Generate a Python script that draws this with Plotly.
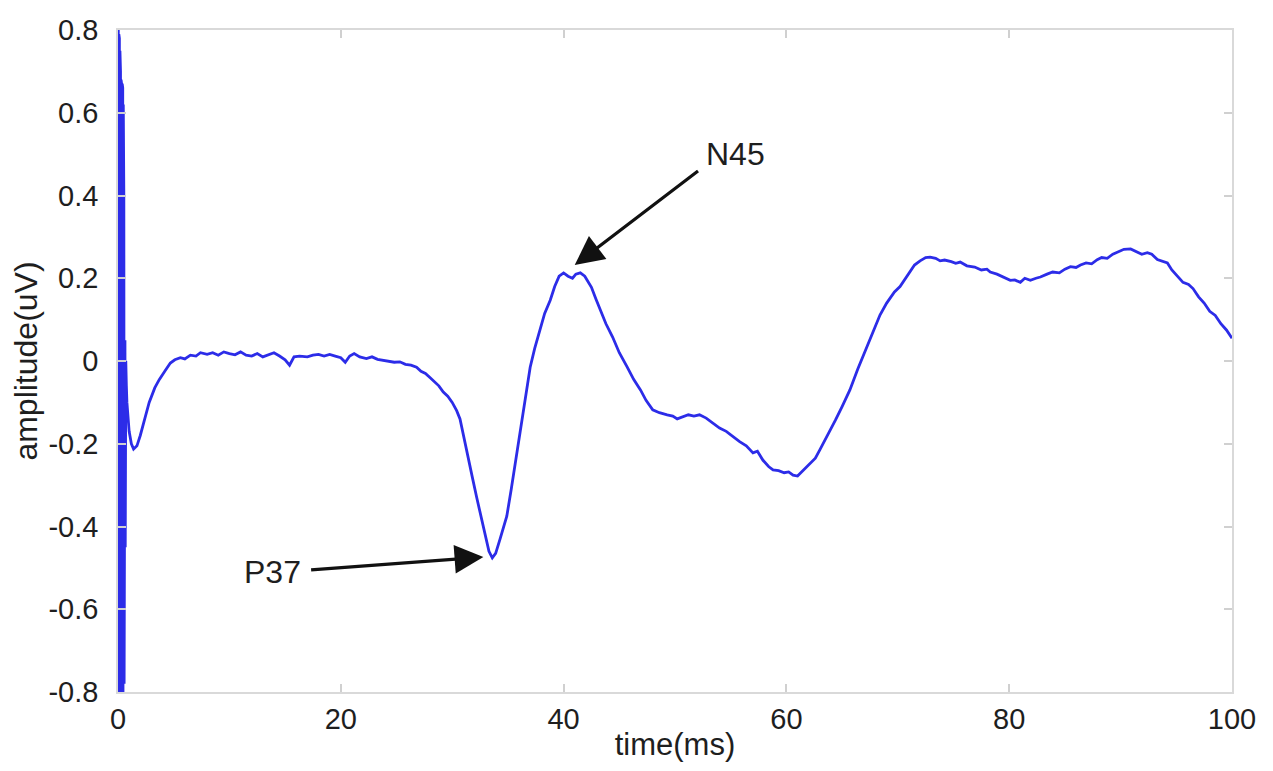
import plotly.graph_objects as go

# ---- data ----
spike_t = [0.0, 0.025, 0.05, 0.075, 0.1, 0.125, 0.15, 0.175, 0.2, 0.225, 0.25, 0.275, 0.3, 0.325, 0.35, 0.375,
           0.4, 0.425, 0.45, 0.475, 0.5, 0.525, 0.55, 0.575, 0.6, 0.625, 0.65, 0.7, 0.75, 0.8, 0.9, 1.0]
spike_v = [0.0, 0.80, -0.80, 0.79, -0.80, 0.78, -0.80, 0.75, -0.80, 0.70, -0.80, 0.68, -0.80, 0.67, -0.80, 0.67,
           -0.80, 0.66, -0.80, 0.62, -0.80, 0.40, -0.78, 0.05, -0.70, 0.05, -0.45, 0.0, -0.06, -0.10, -0.14, -0.17]

wave_t = [1.2, 1.4, 1.7, 2.0, 2.4, 2.8, 3.3, 3.7, 4.2, 4.7, 5.1, 5.6, 6.0, 6.5, 7.0, 7.4, 8.0, 8.5, 9.0, 9.5,
          10.0, 10.5, 11.0, 11.5, 12.0, 12.5, 13.0, 13.5, 14.0, 14.5, 15.0, 15.4, 15.8, 16.3, 17.0, 17.5, 18.0, 18.5, 19.0, 19.5,
          20.0, 20.4, 20.8, 21.2, 21.7, 22.3, 22.8, 23.3, 23.8, 24.3, 24.8, 25.3, 25.8, 26.3, 26.8, 27.2, 27.6, 28.0, 28.4, 28.8,
          29.2, 29.6, 30.0, 30.4, 30.7, 31.0, 31.4, 31.8, 32.2, 32.6, 33.0, 33.3, 33.6, 33.9, 34.3, 34.6, 34.9, 35.3, 35.7, 36.1,
          36.5, 37.0, 37.4, 37.9, 38.3, 38.8, 39.2, 39.6, 40.0, 40.4, 40.8, 41.1, 41.5, 41.9, 42.2, 42.5, 42.9, 43.3, 43.8, 44.4,
          45.0, 45.7, 46.3, 46.9, 47.4, 48.0, 48.6, 49.3, 49.8, 50.2, 50.7, 51.2, 51.7, 52.2, 52.8, 53.4, 54.0, 54.6, 55.2, 55.8,
          56.4, 57.0, 57.4, 57.9, 58.4, 58.8, 59.3, 59.8, 60.2, 60.6, 61.0, 61.5, 62.1, 62.6, 63.0, 63.5, 64.0, 64.4, 65.0, 65.7,
          66.4, 67.1, 67.8, 68.4, 69.0, 69.7, 70.2, 70.6, 71.0, 71.5, 72.0, 72.5, 72.9, 73.4, 73.8, 74.2, 74.8, 75.2, 75.6, 76.2,
          76.9, 77.5, 78.0, 78.3, 78.9, 79.3, 79.6, 80.1, 80.5, 81.0, 81.4, 81.9, 82.4, 82.8, 83.4, 83.9, 84.5, 85.0, 85.5, 86.0,
          86.4, 86.9, 87.4, 87.9, 88.3, 88.8, 89.3, 89.8, 90.3, 90.9, 91.4, 91.9, 92.4, 92.8, 93.3, 93.8, 94.2, 94.6, 95.1, 95.6,
          96.1, 96.5, 97.0, 97.5, 98.0, 98.5, 99.0, 99.5, 100.0]
wave_v = [-0.20, -0.213, -0.205, -0.18, -0.14, -0.10, -0.065, -0.045, -0.025, -0.005, 0.003, 0.008, 0.005, 0.014, 0.012, 0.02, 0.016, 0.02, 0.014, 0.022,
          0.018, 0.015, 0.022, 0.014, 0.012, 0.018, 0.01, 0.015, 0.02, 0.012, 0.003, -0.01, 0.01, 0.012, 0.01, 0.014, 0.016, 0.012, 0.016, 0.012,
          0.008, -0.003, 0.012, 0.018, 0.01, 0.006, 0.01, 0.004, 0.002, 0.0, -0.003, -0.002, -0.008, -0.01, -0.015, -0.025, -0.03, -0.04, -0.05, -0.06,
          -0.075, -0.085, -0.10, -0.12, -0.14, -0.18, -0.23, -0.28, -0.33, -0.38, -0.43, -0.46, -0.476, -0.465, -0.43, -0.40, -0.375, -0.31, -0.24, -0.175,
          -0.10, -0.015, 0.03, 0.08, 0.115, 0.147, 0.18, 0.205, 0.213, 0.205, 0.20, 0.21, 0.213, 0.205, 0.19, 0.178, 0.15, 0.123, 0.09, 0.058,
          0.02, -0.014, -0.045, -0.07, -0.095, -0.118, -0.125, -0.13, -0.133, -0.14, -0.135, -0.13, -0.133, -0.13, -0.138, -0.15, -0.162, -0.17, -0.183, -0.195,
          -0.205, -0.222, -0.218, -0.24, -0.255, -0.263, -0.265, -0.27, -0.268, -0.276, -0.278, -0.265, -0.25, -0.235, -0.215, -0.19, -0.165, -0.143, -0.11, -0.07,
          -0.02, 0.027, 0.07, 0.111, 0.14, 0.167, 0.18, 0.196, 0.215, 0.232, 0.242, 0.25, 0.251, 0.248, 0.242, 0.244, 0.24, 0.236, 0.239, 0.23,
          0.227, 0.22, 0.222, 0.215, 0.21, 0.205, 0.20, 0.195, 0.196, 0.19, 0.2, 0.195, 0.2, 0.203, 0.21, 0.215, 0.213, 0.222, 0.228, 0.226,
          0.232, 0.237, 0.235, 0.245, 0.25, 0.248, 0.258, 0.265, 0.27, 0.271, 0.265, 0.258, 0.262, 0.258, 0.245, 0.24, 0.237, 0.22, 0.205, 0.19,
          0.185, 0.175, 0.155, 0.14, 0.12, 0.11, 0.09, 0.075, 0.055]

x_ticks = [0, 20, 40, 60, 80, 100]
x_tick_labels = ["0", "20", "40", "60", "80", "100"]
y_ticks = [-0.8, -0.6, -0.4, -0.2, 0, 0.2, 0.4, 0.6, 0.8]
y_tick_labels = ["-0.8", "-0.6", "-0.4", "-0.2", "0", "0.2", "0.4", "0.6", "0.8"]

# annotations: label, arrow head, arrow tail, text centre
peak_labels = ["N45", "P37"]
head_t = [41.0, 32.8]
head_v = [0.232, -0.474]
tail_t = [52.2, 17.2]
tail_v = [0.462, -0.505]
text_t = [55.4, 13.9]
text_v = [0.50, -0.51]

t = spike_t + wave_t
v = spike_v + wave_v

FONT = "Liberation Sans, Arial, sans-serif"
TXT = "#1e1e1e"

fig = go.Figure()
fig.add_trace(go.Scatter(x=t, y=v, mode="lines",
                         line=dict(color="#2c2ce8", width=2.8),
                         showlegend=False))

for i, lab in enumerate(peak_labels):
    fig.add_annotation(x=head_t[i], y=head_v[i], ax=tail_t[i], ay=tail_v[i],
                       xref="x", yref="y", axref="x", ayref="y",
                       text="", showarrow=True, arrowhead=2, arrowsize=1.8,
                       arrowwidth=3.2, arrowcolor="#111111")
    fig.add_annotation(x=text_t[i], y=text_v[i], xref="x", yref="y",
                       text=lab, showarrow=False,
                       font=dict(family=FONT, size=32, color=TXT))

axis_common = dict(showgrid=False, zeroline=False, showline=True, linecolor="#d9d9d9",
                   linewidth=1.5, mirror="ticks", ticks="inside", ticklen=8,
                   tickcolor="#d0d0d0", tickwidth=1.5,
                   tickfont=dict(family=FONT, size=29, color=TXT))

fig.update_xaxes(range=[0, 100], tickvals=x_ticks, ticktext=x_tick_labels,
                 title=dict(text="time(ms)", standoff=0,
                            font=dict(family=FONT, size=31, color=TXT)),
                 **axis_common)
fig.update_yaxes(range=[-0.8, 0.8], tickvals=y_ticks, ticktext=y_tick_labels,
                 ticklabelstandoff=12,
                 title=dict(text="amplitude(uV)", standoff=6,
                            font=dict(family=FONT, size=32, color=TXT)),
                 **axis_common)

# page has an 8px body margin, so the figure is sized to fit inside 1273x771
fig.update_layout(width=1257, height=755, paper_bgcolor="white", plot_bgcolor="white",
                  margin=dict(l=110, r=33, t=22, b=71, autoexpand=False), showlegend=False)

fig.write_html("out.html")
